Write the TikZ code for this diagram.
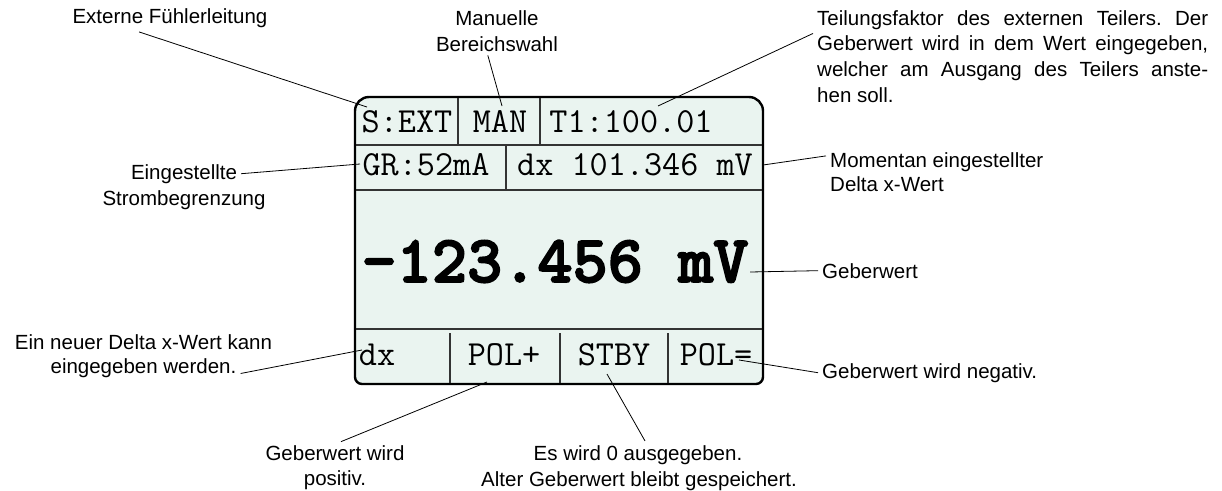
\documentclass[tikz,border=0pt]{standalone}
\usepackage{fontspec}
\setmainfont{Liberation Sans}
\newfontfamily\lcdbold[FakeBold=2.5]{lmmonolt10-bold.otf}
\definecolor{lcdbg}{RGB}{234,244,240}
\frenchspacing
\begin{document}
\begin{tikzpicture}[x=1pt,y=-1pt,
  callout/.style={font=\fontsize{20.5}{25}\selectfont,inner sep=4pt},
  lcd/.style={font=\ttfamily\fontsize{35.2}{35}\selectfont,inner sep=0pt,anchor=base},
  cell/.style={line width=1.2pt,black!80},
  pointer/.style={line width=0.8pt}]
\useasboundingbox (0,0) rectangle (1222,490);
\draw [line width=2.4pt,fill=lcdbg] (355,240) [rounded corners=14pt] -- (355,97) -- (763,97) -- (763,240) [rounded corners=7pt] -- (763,384) -- (355,384) -- cycle;
\draw [cell] (356,145) -- (762,145) (356,190) -- (762,190) (356,329) -- (762,329);
\draw [cell] (458,98) -- (458,145) (540,98) -- (540,145) (506,145) -- (506,190);
\foreach \x in {450,560,668} \draw [cell] (\x,333) -- (\x,383);
\node [lcd] (sext) at (407,132) {S:EXT};
\node [lcd] (man) at (500,132) {MAN};
\node [lcd] (tfak) at (631,132) {T1:100.01};
\node [lcd] (gr) at (426,175) {GR:52mA};
\node [lcd] (dxrow) at (635,175) {dx 101.346 mV};
\node [lcd,font=\lcdbold\fontsize{67}{67}\selectfont] (wert) at (555,282) {-123.456 mV};
\node [lcd] (dxkey) at (377,365) {dx};
\node [lcd] (polp) at (504,365) {POL+};
\node [lcd] (stby) at (614,365) {STBY};
\node [lcd] (polm) at (716,365) {POL=};
\coordinate (cfuehler) at (367,107);
\coordinate (cbereich) at (502,106);
\coordinate (cteiler) at (658,106);
\coordinate (cstrom) at (360,164);
\coordinate (cdelta) at (763,165);
\coordinate (cwert) at (750,272);
\coordinate (cneu) at (362,350);
\coordinate (cpos) at (487,382);
\coordinate (cnull) at (607,374);
\coordinate (cneg) at (739,360);
\node [callout,anchor=base] (lfuehler) at (170,23.5) {Externe Fühlerleitung};
\node [callout,anchor=base] (lbereich1) at (497,25) {Manuelle};
\node [callout,anchor=base] (lbereich2) at (497,51) {Bereichswahl};
\node [callout,anchor=base west] (lteiler1) at (813,25) {\makebox[391pt][s]{Teilungsfaktor des externen Teilers. Der}};
\node [callout,anchor=base west] (lteiler2) at (813,50.7) {\makebox[391pt][s]{Geberwert wird in dem Wert eingegeben,}};
\node [callout,anchor=base west] (lteiler3) at (813,76.3) {\makebox[391pt][s]{welcher am Ausgang des Teilers anste-}};
\node [callout,anchor=base west] (lteiler4) at (813,102) {hen soll.};
\node [callout,anchor=base] (lstrom1) at (184,179) {Eingestellte};
\node [callout,anchor=base] (lstrom2) at (184,205) {Strombegrenzung};
\node [callout,anchor=base west] (ldelta1) at (826,167) {Momentan eingestellter};
\node [callout,anchor=base west] (ldelta2) at (826,191) {Delta x-Wert};
\node [callout,anchor=base west] (lwert) at (818,278) {Geberwert};
\node [callout,anchor=base] (lneu1) at (143.5,349.3) {Ein neuer Delta x-Wert kann};
\node [callout,anchor=base] (lneu2) at (143.5,373.5) {eingegeben werden.};
\node [callout,anchor=base] (lpos1) at (335,460.7) {Geberwert wird};
\node [callout,anchor=base] (lpos2) at (335,485) {positiv.};
\node [callout,anchor=base] (lnull1) at (638,460) {Es wird 0 ausgegeben.};
\node [callout,anchor=base] (lnull2) at (639,486) {Alter Geberwert bleibt gespeichert.};
\node [callout,anchor=base west] (lneg) at (818,378) {Geberwert wird negativ.};
\draw [pointer] (lfuehler.204) -- (cfuehler);
\draw [pointer] (lbereich2.232) -- (cbereich);
\draw [pointer] (lteiler1.south west) -- (cteiler);
\draw [pointer] (lstrom1.east) -- (cstrom);
\draw [pointer] (ldelta1.177) -- (cdelta);
\draw [pointer] (lwert.west) -- (cwert);
\draw [pointer] (lneu2.base east) -- (cneu);
\draw [pointer] (lpos1.63) -- (cpos);
\draw [pointer] (lnull1.63) -- (cnull);
\draw [pointer] (lneg.west) -- (cneg);
\end{tikzpicture}
\end{document}
